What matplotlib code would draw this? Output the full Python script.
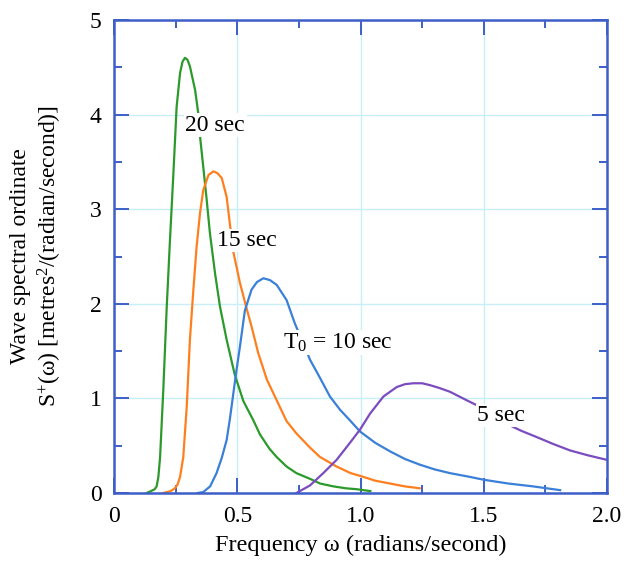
import matplotlib
matplotlib.use("Agg")
import matplotlib.pyplot as plt
from matplotlib.ticker import MultipleLocator

plt.rcParams['font.family'] = ['Liberation Serif', 'DejaVu Serif']
plt.rcParams['mathtext.fontset'] = 'custom'
plt.rcParams['mathtext.rm'] = 'Liberation Serif'
plt.rcParams['mathtext.it'] = 'Liberation Serif:italic'

# values
W_20 = [0.132, 0.15, 0.165, 0.173, 0.18, 0.187, 0.2, 0.214, 0.227, 0.241,
        0.254, 0.268, 0.278, 0.288, 0.298, 0.308, 0.329, 0.342, 0.349, 0.362,
        0.376, 0.389, 0.41, 0.43, 0.457, 0.49, 0.525, 0.565, 0.592, 0.63,
        0.66, 0.70, 0.74, 0.795, 0.836, 0.89, 0.94, 0.985, 1.04]
S_20 = [0.0, 0.02, 0.04, 0.07, 0.17, 0.38, 1.09, 1.97, 2.67, 3.38,
        4.08, 4.44, 4.56, 4.6, 4.58, 4.51, 4.26, 4.01, 3.77, 3.45,
        3.10, 2.75, 2.32, 1.97, 1.62, 1.25, 0.97, 0.77, 0.62, 0.47,
        0.38, 0.28, 0.21, 0.15, 0.10, 0.07, 0.05, 0.04, 0.02]

W_15 = [0.2, 0.214, 0.23, 0.247, 0.258, 0.268, 0.281, 0.295, 0.308, 0.322,
        0.335, 0.349, 0.362, 0.383, 0.403, 0.42, 0.437, 0.457, 0.468, 0.484,
        0.511, 0.538, 0.558, 0.585, 0.62, 0.66, 0.70, 0.74, 0.795, 0.836,
        0.903, 0.96, 1.0, 1.06, 1.12, 1.18, 1.24]
S_15 = [0.0, 0.01, 0.02, 0.05, 0.09, 0.17, 0.38, 0.91, 1.62, 2.15,
        2.60, 2.96, 3.20, 3.36, 3.40, 3.38, 3.33, 3.13, 2.89, 2.55,
        2.22, 1.95, 1.76, 1.48, 1.2, 0.98, 0.76, 0.63, 0.48, 0.38,
        0.28, 0.21, 0.18, 0.13, 0.10, 0.07, 0.05]

W_10 = [0.34, 0.362, 0.39, 0.416, 0.437, 0.457, 0.47, 0.484, 0.497, 0.511,
        0.531, 0.558, 0.58, 0.606, 0.633, 0.66, 0.70, 0.734, 0.765, 0.795,
        0.835, 0.876, 0.917, 0.96, 0.998, 1.06, 1.12, 1.18, 1.24, 1.30,
        1.363, 1.444, 1.5, 1.6, 1.7, 1.81]
S_10 = [0.0, 0.01, 0.07, 0.21, 0.37, 0.56, 0.78, 1.05, 1.30, 1.55,
        1.93, 2.15, 2.23, 2.27, 2.25, 2.20, 2.04, 1.79, 1.60, 1.41,
        1.22, 1.02, 0.88, 0.76, 0.65, 0.53, 0.44, 0.36, 0.30, 0.25,
        0.21, 0.17, 0.14, 0.10, 0.07, 0.03]

W_5 = [0.74, 0.795, 0.849, 0.903, 0.957, 0.998, 1.039, 1.093, 1.147, 1.18,
       1.214, 1.25, 1.282, 1.32, 1.363, 1.431, 1.47, 1.52, 1.586, 1.65,
       1.716, 1.78, 1.85, 1.92, 2.0]
S_5 = [0.0, 0.08, 0.21, 0.35, 0.53, 0.67, 0.84, 1.02, 1.12, 1.15,
       1.16, 1.16, 1.14, 1.11, 1.07, 0.98, 0.93, 0.86, 0.74, 0.66,
       0.59, 0.52, 0.45, 0.40, 0.35]

LABELS = ["20 sec", "15 sec", r"T$_{0}$ = 10 sec", "5 sec"]
LABEL_POS = [(0.29, 3.89), (0.418, 2.67), (0.686, 1.59), (1.473, 0.82)]

COLORS = ['#2b9a2b', '#ff7f1e', '#3a80d8', '#7b4cc0']
SPINE = '#3e5fc8'
FS = 17

fig = plt.figure(figsize=(6.24, 5.61), dpi=100)
ax = fig.add_axes([114 / 624, 68 / 561, 493 / 624, 473 / 561])

series = [(W_20, S_20), (W_15, S_15), (W_10, S_10), (W_5, S_5)]
for (w, s), c in zip(series, COLORS):
    ax.plot(w, s, color=c, lw=1.6, zorder=2, solid_joinstyle='round')

for txt, (x, y) in zip(LABELS, LABEL_POS):
    ax.text(x, y, txt, fontsize=FS, ha='left', va='center', zorder=3,
            bbox=dict(facecolor='white', edgecolor='none', pad=1.0))

ax.set_xlim(0, 2.0)
ax.set_ylim(0, 5)
ax.xaxis.set_major_locator(MultipleLocator(0.5))
ax.xaxis.set_minor_locator(MultipleLocator(0.25))
ax.yaxis.set_major_locator(MultipleLocator(1))
ax.yaxis.set_minor_locator(MultipleLocator(0.5))
ax.set_xticks([0, 0.5, 1.0, 1.5, 2.0])
ax.set_xticklabels(['0', '0.5', '1.0', '1.5', '2.0'])

ax.grid(True, which='major', color='#c8eef8', lw=1.0, zorder=0)
ax.tick_params(which='both', direction='in', top=True, right=True,
               color=SPINE, labelsize=FS, width=1.4)
ax.tick_params(which='major', length=11)
ax.tick_params(which='minor', length=6)
ax.tick_params(axis='x', which='major', pad=9)
ax.tick_params(axis='y', which='major', pad=9)
for sp in ax.spines.values():
    sp.set_color(SPINE)
    sp.set_linewidth(1.8)

ax.set_xlabel("Frequency ω (radians/second)", fontsize=FS + 0.5, labelpad=6)
fig.text(37 / 624, 1 - 256 / 561,
         "Wave spectral ordinate\n"
         r"S$^{+}$(ω) [metres$^{2}$/(radian/second)]",
         rotation=90, ha='center', va='center', fontsize=FS,
         linespacing=1.2, multialignment='center')

fig.savefig("out.png", dpi=100)
